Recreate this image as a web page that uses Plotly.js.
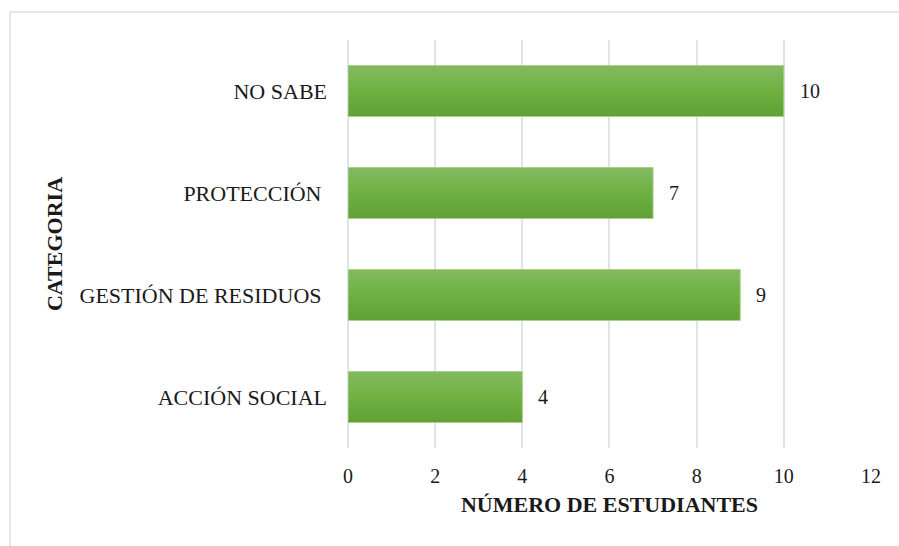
<!DOCTYPE html>
<html>
<head>
<meta charset="utf-8">
<script src="https://cdn.plot.ly/plotly-3.0.1.min.js"></script>
<style>
  html, body { margin: 0; padding: 0; background: #ffffff; }
  #wrap { position: relative; width: 899px; height: 546px; overflow: hidden; }
  #frame { position: absolute; left: 9px; top: 11px; width: 900px; height: 600px;
           border-left: 2px solid #e3e6eb; border-top: 2px solid #e3e6eb; pointer-events: none; }
  #chart { position: absolute; left: 0; top: 0; width: 899px; height: 546px; }
</style>
</head>
<body>
<div id="wrap">
  <div id="chart"></div>
  <div id="frame"></div>
</div>
<script>
// Data (bottom to top as drawn by Plotly)
const categories = ['ACCIÓN SOCIAL', 'GESTIÓN DE RESIDUOS\u00a0', 'PROTECCIÓN\u00a0', 'NO SABE'];
const values = [4, 9, 7, 10];
const xTicks = [0, 2, 4, 6, 8, 10, 12];
const xTitle = 'NÚMERO DE ESTUDIANTES';
const yTitle = 'CATEGORIA';

const serif = '"Liberation Serif", "Times New Roman", serif';

const trace = {
  type: 'bar',
  orientation: 'h',
  x: values,
  y: categories,
  width: 0.5,
  marker: { color: '#6eb040', line: { color: '#a8d08c', width: 1 } },
  hoverinfo: 'none'
};

const annotations = values.map((v, i) => ({
  x: v, y: categories[i], xref: 'x', yref: 'y',
  text: String(v), showarrow: false, xanchor: 'left', xshift: 14,
  font: { family: serif, size: 20, color: '#1a1a1a' }
}));

const layout = {
  width: 899, height: 546,
  margin: { l: 348, r: 28, t: 40, b: 98 },
  paper_bgcolor: 'rgba(0,0,0,0)',
  plot_bgcolor: 'rgba(0,0,0,0)',
  showlegend: false,
  font: { family: serif, color: '#1a1a1a' },
  xaxis: {
    range: [0, 12.001],
    tickvals: xTicks,
    ticktext: xTicks.map(String),
    showgrid: true, gridcolor: '#dfe3ea', gridwidth: 2,
    zeroline: true, zerolinecolor: '#dfe3ea', zerolinewidth: 2,
    showline: false, ticks: '',
    ticklabelstandoff: 14,
    tickfont: { family: serif, size: 20, color: '#1a1a1a' },
    title: { text: '<b>' + xTitle + '</b>', font: { family: serif, size: 22, color: '#1a1a1a' }, standoff: 10 },
    fixedrange: true
  },
  yaxis: {
    type: 'category',
    categoryorder: 'array', categoryarray: categories,
    showgrid: false, zeroline: false, showline: false, ticks: '',
    ticklabelstandoff: 20,
    tickfont: { family: serif, size: 22, color: '#1a1a1a' },
    title: { text: '<b>' + yTitle + '</b>', font: { family: serif, size: 22, color: '#1a1a1a' }, standoff: 10 },
    fixedrange: true
  },
  annotations: annotations
};

Plotly.newPlot('chart', [trace], layout, { displayModeBar: false, staticPlot: true }).then(function (gd) {
  const svg = gd.querySelector('svg.main-svg');
  const ns = 'http://www.w3.org/2000/svg';
  let defs = svg.querySelector('defs');
  if (!defs) { defs = document.createElementNS(ns, 'defs'); svg.insertBefore(defs, svg.firstChild); }
  const grad = document.createElementNS(ns, 'linearGradient');
  grad.setAttribute('id', 'barGrad');
  grad.setAttribute('x1', '0'); grad.setAttribute('y1', '0');
  grad.setAttribute('x2', '0'); grad.setAttribute('y2', '1');
  [['0', '#84ba61'], ['0.5', '#6eb141'], ['1', '#60a034']].forEach(function (s) {
    const st = document.createElementNS(ns, 'stop');
    st.setAttribute('offset', s[0]);
    st.setAttribute('stop-color', s[1]);
    grad.appendChild(st);
  });
  defs.appendChild(grad);
  gd.querySelectorAll('.bars .point path').forEach(function (p) {
    p.style.fill = 'url(#barGrad)';
  });
});
</script>
</body>
</html>
